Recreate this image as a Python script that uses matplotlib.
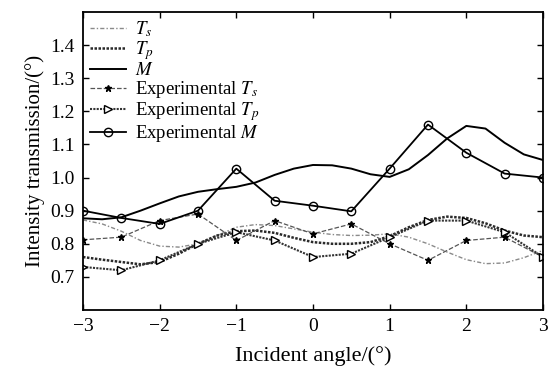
import numpy as np
import matplotlib
matplotlib.use("Agg")
import matplotlib.pyplot as plt

# --- data ---
# theory curves, sampled every 0.25 degree
theta_fine = [-3.0, -2.75, -2.5, -2.25, -2.0, -1.75, -1.5, -1.25, -1.0, -0.75, -0.5, -0.25,
              0.0, 0.25, 0.5, 0.75, 1.0, 1.25, 1.5, 1.75, 2.0, 2.25, 2.5, 2.75, 3.0]
ts_theory = [0.872, 0.860, 0.838, 0.810, 0.793, 0.790, 0.800, 0.825, 0.850, 0.858, 0.855, 0.845,
             0.835, 0.828, 0.825, 0.826, 0.830, 0.820, 0.800, 0.775, 0.752, 0.740, 0.742, 0.758, 0.780]
tp_theory = [0.760, 0.752, 0.745, 0.738, 0.745, 0.770, 0.800, 0.825, 0.838, 0.840, 0.833, 0.818,
             0.805, 0.800, 0.800, 0.805, 0.823, 0.850, 0.872, 0.882, 0.878, 0.862, 0.840, 0.825, 0.820]
m_theory = [0.877, 0.874, 0.880, 0.900, 0.922, 0.943, 0.957, 0.965, 0.972, 0.985, 1.008, 1.027,
            1.038, 1.037, 1.027, 1.010, 1.002, 1.025, 1.068, 1.118, 1.156, 1.148, 1.105, 1.070, 1.053]

# measured points every 0.5 degree
theta_exp = [-3.0, -2.5, -2.0, -1.5, -1.0, -0.5, 0.0, 0.5, 1.0, 1.5, 2.0, 2.5, 3.0]
ts_exp = [0.812, 0.820, 0.870, 0.890, 0.810, 0.870, 0.830, 0.860, 0.800, 0.750, 0.810, 0.820, 0.760]
tp_exp = [0.730, 0.720, 0.750, 0.800, 0.835, 0.810, 0.760, 0.770, 0.820, 0.870, 0.870, 0.835, 0.760]
m_exp = [0.900, 0.878, 0.860, 0.900, 1.027, 0.930, 0.915, 0.898, 1.027, 1.160, 1.075, 1.012, 1.000]

x_ticks = [-3, -2, -1, 0, 1, 2, 3]
y_ticks = [0.7, 0.8, 0.9, 1.0, 1.1, 1.2, 1.3, 1.4]

plt.rcParams['font.family'] = ['Liberation Serif', 'DejaVu Serif']
plt.rcParams['mathtext.fontset'] = 'stix'

fig = plt.figure(figsize=(5.54, 3.75), dpi=100)
ax = fig.add_axes([0.1498, 0.1733, 0.8303, 0.7947])

ax.plot(theta_fine, ts_theory, color='#8a8a8a', lw=1.0, dashes=(3, 1.5, 1, 1.5), label='$T_s$')
ax.plot(theta_fine, tp_theory, color='#2a2a2a', lw=1.8, linestyle=(0, (1, 0.6)), label='$T_p$')
ax.plot(theta_fine, m_theory, color='black', lw=1.4, label='$M$')

ax.plot(theta_exp, ts_exp, color='#555555', lw=0.9, linestyle='--', marker='*', ms=5,
        mfc='black', mec='black', label='Experimental $T_s$')
ax.plot(theta_exp, tp_exp, color='#333333', lw=1.5, linestyle=(0, (1, 0.6)), marker='>', ms=6,
        mfc='white', mec='black', mew=1.0, label='Experimental $T_p$')
ax.plot(theta_exp, m_exp, color='black', lw=1.3, marker='o', ms=6,
        mfc='none', mec='black', mew=1.0, label='Experimental $M$')

ax.set_xlim(-3, 3)
ax.set_ylim(0.6, 1.5)
ax.set_xticks(x_ticks)
ax.set_yticks(y_ticks)
ax.set_yticklabels([f'{v:.1f}' for v in y_ticks])
ax.tick_params(direction='in', top=True, right=True, length=4, width=1, labelsize=14, pad=6)
for s in ax.spines.values():
    s.set_linewidth(1.3)

ax.set_xlabel('Incident angle/(°)', fontsize=16, labelpad=8)
ax.set_ylabel('Intensity transmission/(°)', fontsize=15, labelpad=4)

ax.legend(loc='upper left', frameon=False, fontsize=13.5, handlelength=1.9, handletextpad=0.5,
          labelspacing=0.0, borderaxespad=0.1, borderpad=0.3)

fig.savefig('out.png', dpi=100)
